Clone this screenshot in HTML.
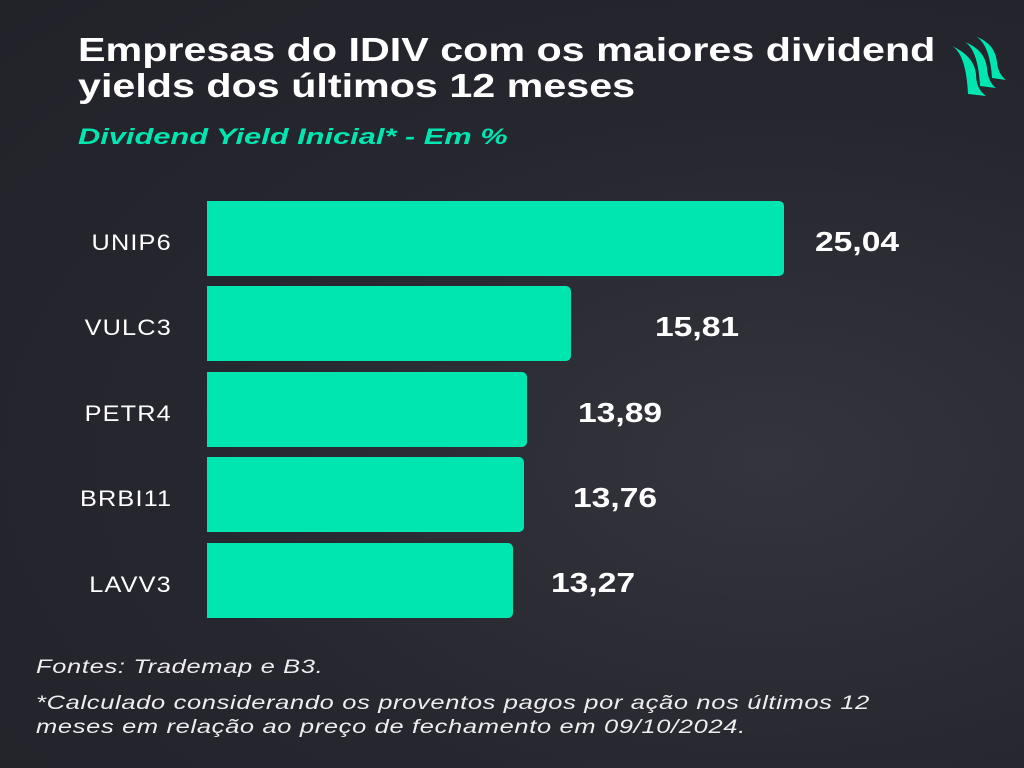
<!DOCTYPE html>
<html><head><meta charset="utf-8"><style>
body{margin:0;width:1024px;height:768px;overflow:hidden;background:radial-gradient(ellipse at 75% 60%,#34343c 0%,#26262f 55%,#222229 100%);font-family:"Liberation Sans",sans-serif;position:relative}
div{white-space:nowrap}
.t{position:absolute;left:78px;top:32px;color:#fff;font-weight:bold;font-size:33px;line-height:36px;transform:scaleX(1.25);transform-origin:0 0}
.s{position:absolute;left:78px;top:124px;color:#00e6b0;font-weight:bold;font-style:italic;font-size:22px;transform:scaleX(1.4);transform-origin:0 0}
.bar{position:absolute;left:207px;height:75px;background:#00e6b0;border-radius:0 5px 5px 0}
.l{position:absolute;right:852px;color:#fff;font-size:22px;letter-spacing:1px;transform:scaleX(1.15);transform-origin:100% 0}
.v{position:absolute;color:#fff;font-weight:bold;font-size:28px;transform:scaleX(1.2);transform-origin:0 0}
.f{position:absolute;left:36px;color:#eee;font-style:italic;font-size:19px;line-height:24px;letter-spacing:0.5px;transform:scaleX(1.34);transform-origin:0 0}
</style></head><body>
<div class="t">Empresas do IDIV com os maiores dividend<br>yields dos últimos 12 meses</div>
<div class="s">Dividend Yield Inicial* - Em %</div>
<svg style="position:absolute;left:950px;top:34px" width="56" height="62" viewBox="0 0 56 62">
<path d="M2 12 Q16 20 18 60 L36 62 Q26 55 26 40 Q24 22 2 12Z" fill="#00e6b0"/>
<path d="M15 8 Q28 16 30 52 L46 54 Q38 48 37 34 Q35 16 15 8Z" fill="#00e6b0"/>
<path d="M27 3 Q40 12 42 44 L56 46 Q48 40 47 28 Q45 10 27 3Z" fill="#00e6b0"/>
</svg>
<div class="bar" style="top:201px;width:577px"></div>
<div class="bar" style="top:286px;width:364px"></div>
<div class="bar" style="top:372px;width:320px"></div>
<div class="bar" style="top:457px;width:317px"></div>
<div class="bar" style="top:543px;width:306px"></div>
<div class="l" style="top:230px">UNIP6</div>
<div class="l" style="top:315px">VULC3</div>
<div class="l" style="top:401px">PETR4</div>
<div class="l" style="top:486px">BRBI11</div>
<div class="l" style="top:572px">LAVV3</div>
<div class="v" style="left:815px;top:226px">25,04</div>
<div class="v" style="left:655px;top:311px">15,81</div>
<div class="v" style="left:578px;top:397px">13,89</div>
<div class="v" style="left:573px;top:482px">13,76</div>
<div class="v" style="left:551px;top:567px">13,27</div>
<div class="f" style="top:656px">Fontes: Trademap e B3.</div>
<div class="f" style="top:692px">*Calculado considerando os proventos pagos por ação nos últimos 12<br>meses em relação ao preço de fechamento em 09/10/2024.</div>
</body></html>
